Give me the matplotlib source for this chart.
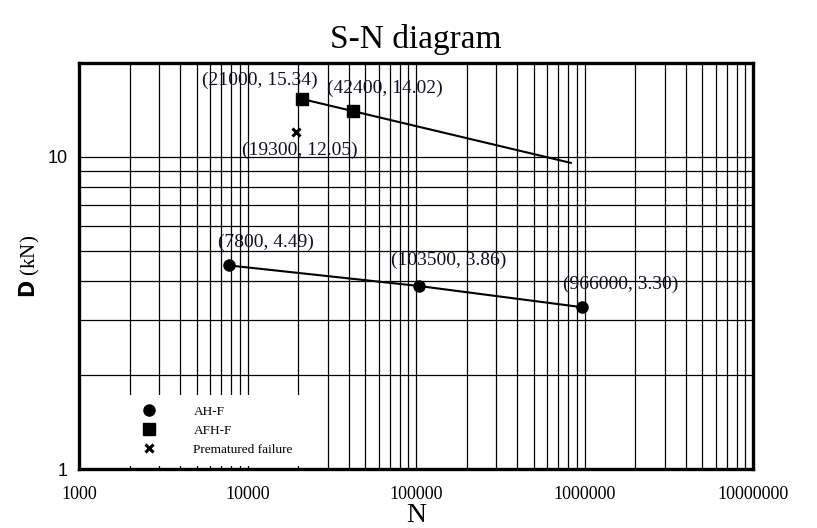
import matplotlib
matplotlib.use("Agg")
import matplotlib.pyplot as plt
from matplotlib.ticker import FuncFormatter, NullFormatter, LogLocator

# ---- data ----
ahf_n = [7800, 103500, 966000]
ahf_p = [4.49, 3.86, 3.30]
afhf_n = [21000, 42400]
afhf_p = [15.34, 14.02]
afhf_line_n = [21000, 830000]
afhf_line_p = [15.34, 9.57]
pre_n = [19300]
pre_p = [12.05]

labels_pts = [(21000, 15.34), (42400, 14.02), (19300, 12.05),
              (7800, 4.49), (103500, 3.86), (966000, 3.30)]
label_texts = ["(21000, 15.34)", "(42400, 14.02)", "(19300, 12.05)",
               "(7800, 4.49)", "(103500, 3.86)", "(966000, 3.30)"]
label_offsets = [(-42, 19), (32, 23), (4, -19), (37, 23), (30, 26), (39, 23)]

x_ticks = [1000, 10000, 100000, 1000000, 10000000]
y_ticks = [1, 10]

serif = "Liberation Serif"
sans = "Liberation Sans"

fig = plt.figure(figsize=(8.17, 5.28), dpi=100)
ax = fig.add_axes([79/817, 1-469/528, (753-79)/817, (469-63)/528])
ax.set_xscale("log")
ax.set_yscale("log")
ax.set_xlim(1000, 10000000)
ax.set_ylim(1, 20)

ax.xaxis.set_major_locator(LogLocator(base=10, numticks=20))
ax.xaxis.set_minor_locator(LogLocator(base=10, subs=range(2, 10), numticks=20))
ax.yaxis.set_minor_locator(LogLocator(base=10, subs=range(2, 10), numticks=20))
ax.set_xticks(x_ticks)
ax.set_yticks(y_ticks)
ax.xaxis.set_major_formatter(FuncFormatter(lambda v, p: f"{int(round(v))}"))
ax.yaxis.set_major_formatter(FuncFormatter(lambda v, p: f"{int(round(v))}"))
ax.xaxis.set_minor_formatter(NullFormatter())
ax.yaxis.set_minor_formatter(NullFormatter())

ax.grid(True, which="both", color="black", lw=0.9)
ax.set_axisbelow(True)
ax.tick_params(which="both", length=0)
ax.tick_params(axis="x", pad=12)
ax.tick_params(axis="y", pad=8)
for lab in ax.get_xticklabels():
    lab.set_fontfamily(serif)
    lab.set_fontsize(13)
for lab in ax.get_yticklabels():
    lab.set_fontfamily(sans)
    lab.set_fontsize(13)

for s in ax.spines.values():
    s.set_linewidth(2.4)

# lines
ax.plot(ahf_n, ahf_p, color="black", lw=1.5, zorder=3)
ax.plot(afhf_line_n, afhf_line_p, color="black", lw=1.5, zorder=3)
# markers
ax.plot(ahf_n, ahf_p, ls="none", color="black", marker="o", ms=8, label="AH-F", zorder=3)
ax.plot(afhf_n, afhf_p, ls="none", color="black", marker="s", ms=8, label="AFH-F", zorder=3)
ax.plot(pre_n, pre_p, ls="none", color="black", marker="x", ms=6, mew=2.2,
        label="Prematured failure", zorder=3)

for (px, py), t, (dx, dy) in zip(labels_pts, label_texts, label_offsets):
    ax.annotate(t, (px, py), xytext=(dx, dy), textcoords="offset pixels",
                ha="center", va="center", fontsize=14, family=serif, color="#10102a",
                zorder=4)

leg = ax.legend(loc="upper left", bbox_to_anchor=(0.068, 0.182), borderaxespad=0,
                frameon=True, fancybox=False, framealpha=1, edgecolor="none",
                facecolor="white", prop={"family": serif, "size": 9.5},
                handlelength=2, handletextpad=2.4, labelspacing=0.5, borderpad=0.8)
leg.set_zorder(5)

ax.set_title("S-N diagram", family=serif, fontsize=24, pad=11)
ax.set_xlabel("N", family=serif, fontsize=20, labelpad=0)
ax.set_ylabel(r"$\mathbf{D}$ (kN)", family=serif, fontsize=15, labelpad=4)

fig.savefig("out.png", dpi=100)
